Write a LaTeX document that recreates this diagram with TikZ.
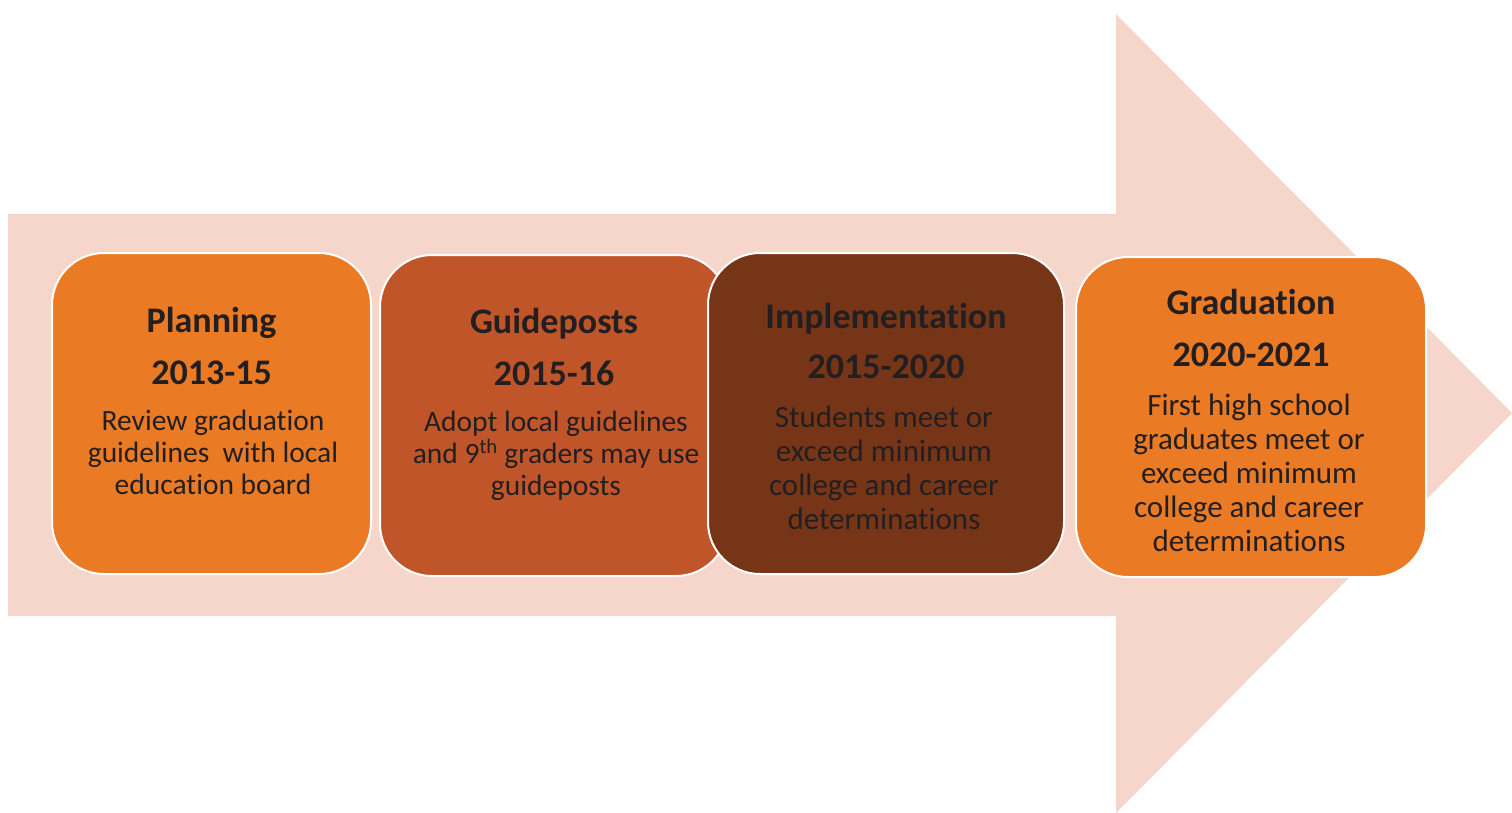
\documentclass[tikz,border=0pt]{standalone}
\usepackage{fontspec}
\setmainfont{Carlito}[Ligatures=NoCommon]
\usepackage{xcolor}
\definecolor{arrowpink}{HTML}{F6D5CB}
\definecolor{planorange}{HTML}{EB7A25}
\definecolor{guiderust}{HTML}{C1552A}
\definecolor{implbrown}{HTML}{773518}
\definecolor{inkdark}{HTML}{231F20}

\tikzset{
  stagebox/.style={draw=white, line width=2pt, rounded corners=52pt, inner sep=0pt},
  stagetitle/.style={anchor=base, text=inkdark, font=\fontsize{36}{42}\selectfont\bfseries},
  stagetext/.style={anchor=base, align=center, text=inkdark, font=\fontsize{29.5}{32}\selectfont}
}

\begin{document}
\begin{tikzpicture}[x=1pt, y=-1pt]
      \useasboundingbox (0,0) rectangle (1512,813);
      % Big arrow in the back
      \fill[arrowpink] (8,214) -- (1116,214) -- (1116,14) -- (1512,413)
        -- (1116,813) -- (1116,616) -- (8,616) -- cycle;
      % Stage boxes
      \node[stagebox, fill=planorange, minimum width=319pt, minimum height=321pt] (plan) at (211.5,413.5) {};
      \node[stagebox, fill=guiderust, minimum width=348pt, minimum height=321pt] (guide) at (554,415.5) {};
      \node[stagebox, fill=implbrown, minimum width=356pt, minimum height=321pt] (impl) at (886,413.5) {};
      \node[stagebox, fill=planorange, minimum width=350pt, minimum height=320pt] (grad) at (1251,417) {};
      % Planning (text nodes sit on the baseline of their last line)
      \node[stagetitle] (plantitle) at (211.5,332) {Planning};
      \node[stagetitle] (planyear) at (211.5,384) {2013-15};
      \node[stagetext] (plantext) at (213,494) {Review graduation\\guidelines\ \ with local\\education board};
      % Guideposts
      \node[stagetitle] (guidetitle) at (554,333) {Guideposts};
      \node[stagetitle] (guideyear) at (554,385) {2015-16};
      \node[stagetext] (guidetext) at (556,495) {Adopt local guidelines\\and 9\textsuperscript{th} graders may use\\guideposts};
      % Implementation
      \node[stagetitle] (impltitle) at (886,328) {Implementation};
      \node[stagetitle] (implyear) at (886,378) {2015-2020};
      \node[stagetext, font=\fontsize{31}{34}\selectfont] (impltext) at (884,529) {Students meet or\\exceed minimum\\college and career\\determinations};
      % Graduation
      \node[stagetitle] (gradtitle) at (1251,314) {Graduation};
      \node[stagetitle] (gradyear) at (1251,366) {2020-2021};
      \node[stagetext, font=\fontsize{31}{34}\selectfont] (gradtext) at (1249,551) {First high school\\graduates meet or\\exceed minimum\\college and career\\determinations};
    \end{tikzpicture}
\end{document}
